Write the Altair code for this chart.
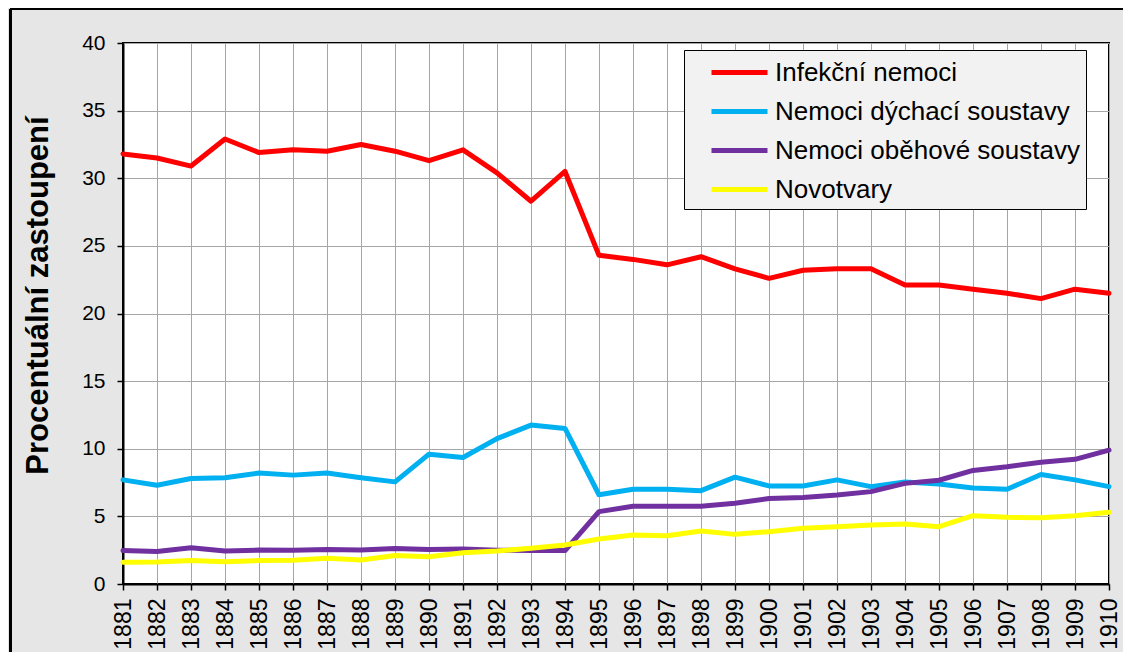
import altair as alt
import pandas as pd

years = list(range(1881, 1911))

infekcni = [31.8, 31.5, 30.9, 32.9, 31.9, 32.1, 32.0, 32.5, 32.0, 31.3,
            32.1, 30.4, 28.3, 30.5, 24.3, 24.0, 23.6, 24.2, 23.3, 22.6,
            23.2, 23.3, 23.3, 22.1, 22.1, 21.8, 21.5, 21.1, 21.8, 21.5]
dychaci = [7.7, 7.3, 7.8, 7.85, 8.2, 8.05, 8.2, 7.85, 7.55, 9.6,
           9.35, 10.75, 11.75, 11.5, 6.6, 7.0, 7.0, 6.9, 7.9, 7.25,
           7.25, 7.7, 7.2, 7.55, 7.4, 7.1, 7.0, 8.1, 7.7, 7.2]
obehove = [2.47, 2.4, 2.68, 2.44, 2.51, 2.49, 2.56, 2.51, 2.63, 2.56,
           2.58, 2.5, 2.47, 2.47, 5.35, 5.75, 5.75, 5.75, 5.97, 6.32,
           6.4, 6.58, 6.83, 7.44, 7.67, 8.4, 8.67, 9.0, 9.22, 9.9]
novotvary = [1.6, 1.62, 1.73, 1.65, 1.73, 1.75, 1.9, 1.77, 2.1, 2.02,
             2.31, 2.44, 2.64, 2.88, 3.33, 3.62, 3.57, 3.92, 3.67, 3.87,
             4.12, 4.24, 4.36, 4.44, 4.24, 5.05, 4.93, 4.9, 5.05, 5.3]

series_names = ["Infekční nemoci", "Nemoci dýchací soustavy",
                "Nemoci oběhové soustavy", "Novotvary"]
series_colors = ["#ff0000", "#00b0f0", "#7030a0", "#ffff00"]
series_values = [infekcni, dychaci, obehove, novotvary]

rows = []
for name, vals in zip(series_names, series_values):
    for y, v in zip(years, vals):
        rows.append({"rok": y, "hodnota": v, "skupina": name})
df = pd.DataFrame(rows)

FONT = "Liberation Sans"

lines = alt.Chart(df).mark_line(strokeWidth=5, strokeJoin="round", strokeCap="round").encode(
    x=alt.X("rok:Q",
            scale=alt.Scale(domain=[1881, 1910], nice=False, zero=False),
            axis=alt.Axis(values=years, format="d", labelAngle=270,
                          labelFontSize=23, labelPadding=8, title=None,
                          tickSize=6, labelFlush=False, labelOverlap=False)),
    y=alt.Y("hodnota:Q",
            scale=alt.Scale(domain=[0, 40], nice=False),
            axis=alt.Axis(values=[0, 5, 10, 15, 20, 25, 30, 35, 40],
                          labelFontSize=21, labelPadding=12, tickSize=6,
                          title="Procentuální zastoupení",
                          titleFontSize=31, titleFontWeight="bold",
                          titleAngle=270, titleX=-85, titleY=252,
                          titleAlign="center", titleBaseline="middle")),
    color=alt.Color("skupina:N",
                    scale=alt.Scale(domain=series_names, range=series_colors),
                    legend=alt.Legend(title=None, orient="none",
                                      legendX=561, legendY=7,
                                      symbolType="M -3 0 L 1 0", symbolSize=784,
                                      symbolStrokeWidth=5, symbolOffset=47,
                                      labelFontSize=26, labelOffset=5,
                                      rowPadding=9, padding=6,
                                      fillColor="#f2f2f2", strokeColor="#000000",
                                      labelLimit=400)),
    order=alt.Order("rok:Q"),
)

frame_left = alt.Chart(df).mark_rule(color="black", strokeWidth=1.5).encode(
    x=alt.value(-112.5), y=alt.value(-34), y2=alt.value(610))
frame_top = alt.Chart(df).mark_rule(color="black", strokeWidth=1.5).encode(
    x=alt.value(-112.5), x2=alt.value(1000), y=alt.value(-34))

chart = alt.layer(lines, frame_left, frame_top).properties(
    width=986, height=541,
    autosize=alt.AutoSizeParams(type="none"),
    padding={"left": 115, "top": 35, "right": 14, "bottom": 68},
    background="#e6e6e6",
).configure_view(
    fill="white", stroke="black", strokeWidth=2
).configure_axis(
    labelFont=FONT, titleFont=FONT, labelColor="black", titleColor="black",
    domainColor="black", domainWidth=2, tickColor="black", tickWidth=1.5,
    grid=True, gridColor="#a6a6a6", gridWidth=1,
).configure_legend(
    labelFont=FONT, labelColor="black"
)

chart.save("out.html", embed_options={"renderer": "svg", "actions": False})
